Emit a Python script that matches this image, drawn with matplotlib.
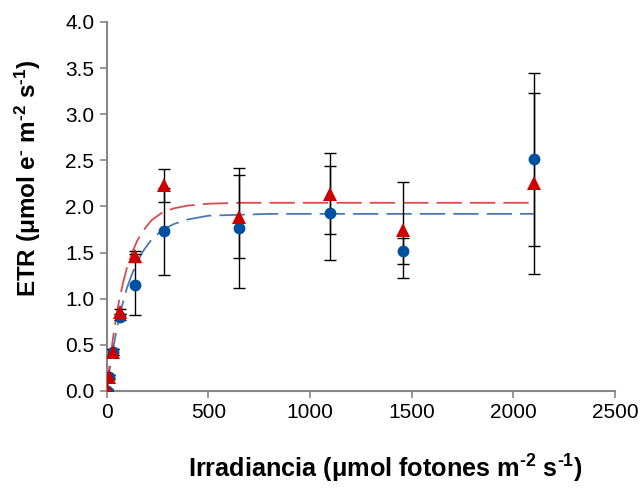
import matplotlib
matplotlib.use("Agg")
import matplotlib.pyplot as plt

# ---- data ----
irradiance = [0, 11, 30, 65, 140, 280, 650, 1100, 1455, 2100]
etr_circle = [0.0, 0.15, 0.42, 0.80, 1.15, 1.73, 1.77, 1.93, 1.52, 2.51]
err_circle = [0.0, 0.02, 0.03, 0.03, 0.33, 0.47, 0.65, 0.51, 0.14, 0.94]
etr_triangle = [0.02, 0.15, 0.42, 0.86, 1.46, 2.23, 1.89, 2.14, 1.75, 2.25]
err_triangle = [0.0, 0.02, 0.03, 0.03, 0.06, 0.18, 0.45, 0.44, 0.52, 0.98]

# fitted curves
fit_x = [0, 10, 20, 30, 45, 60, 80, 100, 125, 150, 180, 220, 270, 330, 400, 500, 650, 800, 2100]
fit_triangle = [0.0, 0.21, 0.39, 0.56, 0.78, 0.97, 1.17, 1.34, 1.50, 1.63, 1.74, 1.85, 1.93, 1.98,
                2.01, 2.03, 2.04, 2.04, 2.04]
fit_circle = [0.0, 0.16, 0.31, 0.44, 0.62, 0.78, 0.96, 1.12, 1.27, 1.40, 1.52, 1.64, 1.74, 1.81,
              1.86, 1.90, 1.91, 1.92, 1.92]

x_ticks = [0, 500, 1000, 1500, 2000, 2500]
y_ticks = [0.0, 0.5, 1.0, 1.5, 2.0, 2.5, 3.0, 3.5, 4.0]

plt.rcParams['font.family'] = ['Liberation Sans', 'DejaVu Sans']
plt.rcParams['mathtext.fontset'] = 'custom'
plt.rcParams['mathtext.rm'] = 'Liberation Sans:bold'
plt.rcParams['mathtext.it'] = 'Liberation Sans:bold'
plt.rcParams['mathtext.bf'] = 'Liberation Sans:bold'

BLUE = '#0050A0'
RED = '#CC0000'

fig = plt.figure(figsize=(6.44, 4.92), dpi=100)
ax = fig.add_axes([0.1657, 0.2053, 0.7893, 0.75])

ax.plot(fit_x, fit_circle, color='#4A78B0', lw=1.3, dashes=(14, 4.5), zorder=2)
ax.plot(fit_x, fit_triangle, color='#D84C4C', lw=1.3, dashes=(14, 4.5), zorder=2)

ax.errorbar(irradiance, etr_circle, yerr=err_circle, fmt='none', ecolor='black',
            elinewidth=1.0, capsize=4.5, capthick=1.0, zorder=3)
ax.errorbar(irradiance, etr_triangle, yerr=err_triangle, fmt='none', ecolor='black',
            elinewidth=1.0, capsize=4.5, capthick=1.0, zorder=3)

ax.plot(irradiance, etr_circle, 'o', color=BLUE, markersize=8.5, markeredgewidth=0, zorder=4)
ax.plot(irradiance, etr_triangle, '^', color=RED, markersize=10, markeredgewidth=0, zorder=5)

ax.set_xlim(0, 2500)
ax.set_ylim(0, 4.0)
ax.set_xticks(x_ticks)
ax.set_yticks(y_ticks)
ax.set_yticklabels([f"{v:.1f}" for v in y_ticks])

for side in ['top', 'right']:
    ax.spines[side].set_visible(False)
for side in ['left', 'bottom']:
    ax.spines[side].set_color('#868686')
    ax.spines[side].set_linewidth(1.5)
ax.tick_params(axis='both', direction='out', length=5, width=1.2, color='#868686',
               labelsize=15, pad=4)

fig.text(385 / 644, 1 - 469 / 492, r'Irradiancia (μmol fotones m$^{\text{-2}}$ s$^{\text{-1}}$)',
         ha='center', va='center', fontsize=18.2, fontweight='bold')
fig.text(28 / 644, 1 - 178 / 492, r'ETR (μmol e$^{\text{-}}$ m$^{\text{-2}}$ s$^{\text{-1}}$)',
         ha='center', va='center', rotation=90, fontsize=17.5, fontweight='bold')

fig.savefig('out.png', dpi=100)
